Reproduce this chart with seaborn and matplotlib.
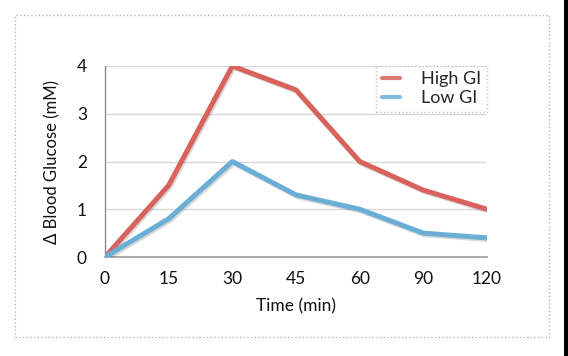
import matplotlib
matplotlib.use("Agg")
import matplotlib.pyplot as plt
import matplotlib.patheffects as pe
from matplotlib.patches import Rectangle
from matplotlib.lines import Line2D
import seaborn as sns
import pandas as pd

times = ["0", "15", "30", "45", "60", "90", "120"]
high_gi = [0, 1.5, 4.0, 3.5, 2.0, 1.4, 1.0]
low_gi = [0, 0.8, 2.0, 1.3, 1.0, 0.5, 0.4]
series_names = ["High GI", "Low GI"]
colors = ["#d8625c", "#6aaed6"]
y_ticks = [0, 1, 2, 3, 4]

sns.set_theme(style="white")
plt.rcParams['font.family'] = ['Lato', 'DejaVu Sans']

rows = []
for name, vals in zip(series_names, [high_gi, low_gi]):
    for i, (t, v) in enumerate(zip(times, vals)):
        rows.append({"pos": i, "Time": t, "value": v, "series": name})
df = pd.DataFrame(rows)

fig = plt.figure(figsize=(5.68, 3.56), dpi=100)
fig.patch.set_facecolor("white")
ax = fig.add_axes([105/568, 1-257/356, (487-105)/568, (257-66)/356])

sns.lineplot(data=df, x="pos", y="value", hue="series", palette=colors,
             linewidth=3.6, ax=ax, legend=False, zorder=3)
for line in ax.lines:
    line.set_solid_joinstyle("round")
    line.set_path_effects([pe.SimpleLineShadow(offset=(1, -1.2), alpha=0.15, shadow_color="black"),
                           pe.Normal()])

ax.set_xlim(0, len(times) - 1)
ax.set_ylim(0, 4)
ax.set_xticks(range(len(times)))
ax.set_xticklabels(times)
ax.set_yticks(y_ticks)
ax.set_yticklabels([str(t) for t in y_ticks])
ax.tick_params(axis="both", length=0, labelsize=12.5, colors="#111111")
ax.tick_params(axis="y", pad=13)
ax.tick_params(axis="x", pad=10)
ax.yaxis.grid(True, color="#d9d9d9", linewidth=1)
ax.set_axisbelow(True)
for s in ["top", "right"]:
    ax.spines[s].set_visible(False)
ax.spines["left"].set_color("#8a8a8a")
ax.spines["bottom"].set_color("#9a9a9a")
ax.spines["left"].set_linewidth(1.0)
ax.spines["bottom"].set_linewidth(1.2)

ax.set_xlabel("Time (min)", fontsize=12.5, color="#111111", labelpad=8)
ax.set_ylabel("Δ Blood Glucose (mM)", fontsize=12, color="#111111", labelpad=12)

handles = [Line2D([0], [0], color=c, linewidth=3.0, alpha=0.85) for c in colors]
leg = ax.legend(handles, series_names, loc="upper right", bbox_to_anchor=(1.0, 1.0),
                fontsize=13, handlelength=1.0, handletextpad=1.2, frameon=True,
                fancybox=False, borderpad=0.3, labelspacing=0.15, borderaxespad=0)
leg.get_frame().set_edgecolor("#bbbbbb")
leg.get_frame().set_linestyle(":")
leg.get_frame().set_linewidth(1.0)

fig.patches.append(Rectangle((15/568, 1-337/356), (549-15)/568, (337-15)/356,
                             transform=fig.transFigure, fill=False,
                             edgecolor="#b5b5b5", linestyle=":", linewidth=1.0))
fig.patches.append(Rectangle((564/568, 0), 4/568, 1, transform=fig.transFigure,
                             facecolor="black", edgecolor="none"))

fig.savefig("out.png", dpi=100)
